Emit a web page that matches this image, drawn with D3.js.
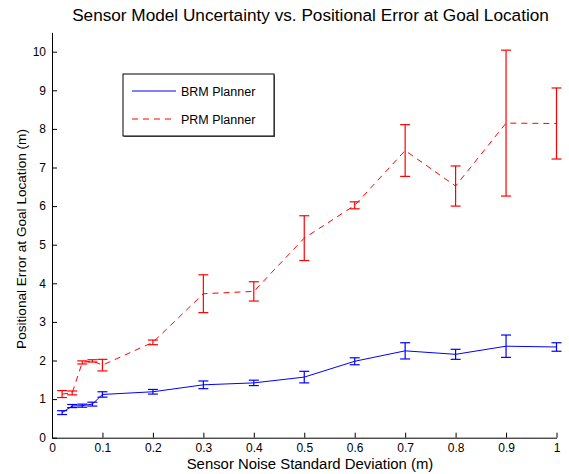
<!DOCTYPE html>
<html lang="en">
<head>
<meta charset="UTF-8">
<title>Sensor Model Uncertainty</title>
<style>
  body { margin: 0; background: #fff; }
  text { font-family: "Liberation Sans", Arial, sans-serif; fill: #000; }
</style>
</head>
<body>
<svg width="569" height="474" id="svg"></svg>
<script src="https://d3js.org/d3.v7.min.js"></script>
<script>
// noise levels (x) shared by both planners
const noise = [0.02, 0.04, 0.06, 0.08, 0.1, 0.2, 0.3, 0.4, 0.5, 0.6, 0.7, 0.8, 0.9, 1.0];

// BRM planner mean error and error-bar half length
const brmMean = [0.65, 0.82, 0.83, 0.87, 1.12, 1.19, 1.37, 1.42, 1.57, 1.98, 2.25, 2.16, 2.37, 2.35];
const brmErr  = [0.05, 0.04, 0.04, 0.05, 0.07, 0.06, 0.10, 0.07, 0.15, 0.09, 0.21, 0.13, 0.29, 0.11];

// PRM planner mean error and error-bar half length
const prmMean = [1.13, 1.16, 1.95, 1.99, 1.88, 2.47, 3.73, 3.79, 5.17, 6.02, 7.44, 6.52, 8.15, 8.14];
const prmErr  = [0.09, 0.05, 0.04, 0.03, 0.15, 0.06, 0.49, 0.25, 0.58, 0.09, 0.67, 0.52, 1.89, 0.92];

const xTicks = [0, 0.1, 0.2, 0.3, 0.4, 0.5, 0.6, 0.7, 0.8, 0.9, 1];
const yTicks = [0, 1, 2, 3, 4, 5, 6, 7, 8, 9, 10];

const svg = d3.select("svg");

const x = d3.scaleLinear().domain([0, 1]).range([52, 556.5]);
const y = d3.scaleLinear().domain([0, 10.5]).range([437.7, 32.4]);

// x axis, ticks pointing inward
const xAxis = svg.append("g")
    .attr("transform", "translate(0," + y(0) + ")")
    .call(d3.axisBottom(x).tickValues(xTicks).tickSize(-5).tickSizeOuter(0)
        .tickFormat(d => d === 0 || d === 1 ? d3.format("d")(d) : d3.format(".1f")(d)));
xAxis.selectAll("text").attr("dy", 0).attr("y", 14.5).style("font-size", "12px")
    .style("font-family", "Liberation Sans, Arial, sans-serif");

// y axis
const yAxis = svg.append("g")
    .attr("transform", "translate(" + x(0) + ",0)")
    .call(d3.axisLeft(y).tickValues(yTicks).tickSize(-5).tickSizeOuter(0));
yAxis.selectAll("text").attr("x", -6).style("font-size", "12px")
    .style("font-family", "Liberation Sans, Arial, sans-serif");

svg.selectAll(".domain").attr("stroke", "#000");
svg.selectAll(".tick line").attr("stroke", "#000");

// series
function drawSeries(mean, err, color, dash) {
  const pts = noise.map((v, i) => ({x: v, m: mean[i], e: err[i]}));
  const g = svg.append("g");
  g.append("path")
      .datum(pts)
      .attr("fill", "none")
      .attr("stroke", color)
      .attr("stroke-width", 1)
      .attr("stroke-dasharray", dash)
      .attr("d", d3.line().x(d => x(d.x)).y(d => y(d.m)));

  const bars = g.selectAll(".eb").data(pts).enter().append("g");
  bars.append("line")
      .attr("x1", d => x(d.x)).attr("x2", d => x(d.x))
      .attr("y1", d => y(d.m - d.e)).attr("y2", d => y(d.m + d.e))
      .attr("stroke", color).attr("stroke-width", 1.2);
  bars.append("line")
      .attr("x1", d => x(d.x) - 5).attr("x2", d => x(d.x) + 5)
      .attr("y1", d => y(d.m + d.e)).attr("y2", d => y(d.m + d.e))
      .attr("stroke", color).attr("stroke-width", 1.2);
  bars.append("line")
      .attr("x1", d => x(d.x) - 5).attr("x2", d => x(d.x) + 5)
      .attr("y1", d => y(d.m - d.e)).attr("y2", d => y(d.m - d.e))
      .attr("stroke", color).attr("stroke-width", 1.2);
}

drawSeries(prmMean, prmErr, "#ff0000", "6,5");
drawSeries(brmMean, brmErr, "#0000ff", null);

// title and labels
svg.append("text")
    .attr("x", 310.5).attr("y", 21)
    .attr("text-anchor", "middle")
    .style("font-size", "17.2px")
    .text("Sensor Model Uncertainty vs. Positional Error at Goal Location");

svg.append("text")
    .attr("x", 310).attr("y", 469)
    .attr("text-anchor", "middle")
    .style("font-size", "14.9px")
    .text("Sensor Noise Standard Deviation (m)");

svg.append("text")
    .attr("transform", "translate(25.5,239) rotate(-90)")
    .attr("text-anchor", "middle")
    .style("font-size", "13.6px")
    .text("Positional Error at Goal Location (m)");

// legend
const legend = svg.append("g");
legend.append("rect")
    .attr("x", 124).attr("y", 75).attr("width", 151).attr("height", 62)
    .attr("fill", "#666");
legend.append("rect")
    .attr("x", 123).attr("y", 74).attr("width", 151).attr("height", 62)
    .attr("fill", "#fff").attr("stroke", "#000").attr("stroke-width", 1);

const legendItems = [
  {name: "BRM Planner", color: "#0000ff", dash: null},
  {name: "PRM Planner", color: "#ff0000", dash: "6,5"}
];
legendItems.forEach((it, i) => {
  const ly = 91 + i * 28;
  legend.append("line")
      .attr("x1", 132).attr("x2", 176).attr("y1", ly).attr("y2", ly)
      .attr("stroke", it.color).attr("stroke-width", 1)
      .attr("stroke-dasharray", it.dash);
  legend.append("text")
      .attr("x", 181).attr("y", ly + 4.5)
      .style("font-size", "12.5px")
      .text(it.name);
});
</script>
</body>
</html>
